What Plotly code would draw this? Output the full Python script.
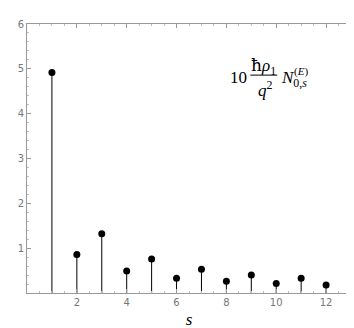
import plotly.graph_objects as go

# stem values N_{0,s}^{(E)} (scaled)
s_vals = [1, 2, 3, 4, 5, 6, 7, 8, 9, 10, 11, 12]
n_vals = [4.92, 0.86, 1.32, 0.49, 0.76, 0.33, 0.53, 0.26, 0.40, 0.21, 0.33, 0.18]

x_ticks = [2, 4, 6, 8, 10, 12]
y_ticks = [1, 2, 3, 4, 5, 6]

# stem lines: vertical segment from 0 to value for each s
stem_x, stem_y = [], []
for s, v in zip(s_vals, n_vals):
    stem_x += [s, s, None]
    stem_y += [0, v, None]

fig = go.Figure()
fig.add_trace(go.Scatter(x=stem_x, y=stem_y, mode='lines',
                         line=dict(color='black', width=1), hoverinfo='skip'))
fig.add_trace(go.Scatter(x=s_vals, y=n_vals, mode='markers',
                         marker=dict(color='black', size=7)))

axis_common = dict(
    showgrid=False, zeroline=False, showline=True, linecolor='#999',
    linewidth=1, mirror='allticks', ticks='inside', ticklen=4,
    tickcolor='#999', tickfont=dict(family='DejaVu Sans', size=10, color='#777'),
    minor=dict(ticks='inside', ticklen=2, tickcolor='#bbb'),
)

fig.update_xaxes(range=[0, 13], tickvals=x_ticks, minor_dtick=0.5, **axis_common,
                 title=dict(text='<i>s</i>', standoff=6,
                            font=dict(family='Liberation Serif', size=17, color='black')))
fig.update_yaxes(range=[0, 6], tickvals=y_ticks, minor_dtick=0.2, **axis_common)

serif = dict(family='Liberation Serif', size=17, color='black')
small = dict(family='Liberation Serif', size=11, color='black')
fig.add_annotation(x=8.48, y=4.80, text='10', showarrow=False, font=serif)
fig.add_annotation(x=9.48, y=5.06, showarrow=False, font=serif,
                   text='<span style="font-family:DejaVu Serif">ħ</span><i>ρ</i><sub>1</sub>')
fig.add_annotation(x=9.55, y=4.55, text='<i>q</i><sup>2</sup>', showarrow=False, font=serif)
fig.add_annotation(x=10.1, y=4.77, xanchor='left',
                   text='<i>N</i><sub>0,<i>s</i></sub>',
                   showarrow=False, font=serif)
fig.add_annotation(x=10.63, y=4.95, xanchor='left', text='(<i>E</i>)',
                   showarrow=False, font=small)
fig.add_shape(type='line', x0=8.96, x1=10.04, y0=4.86, y1=4.86,
              line=dict(color='black', width=1))

fig.update_layout(
    width=354, height=328, showlegend=False,
    plot_bgcolor='white', paper_bgcolor='white',
    margin=dict(l=19, r=10, t=11, b=38),
)

fig.write_html("out.html")
